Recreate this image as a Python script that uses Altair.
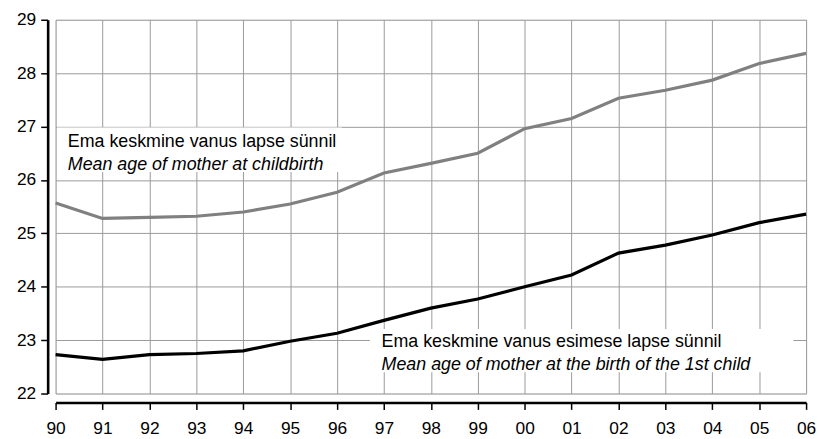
import altair as alt
import pandas as pd

years = ["90", "91", "92", "93", "94", "95", "96", "97", "98", "99",
         "00", "01", "02", "03", "04", "05", "06"]
mean_age_all = [25.57, 25.28, 25.30, 25.32, 25.40, 25.55, 25.77, 26.13, 26.31, 26.50,
                26.96, 27.15, 27.53, 27.68, 27.87, 28.18, 28.37]
mean_age_first = [22.73, 22.64, 22.73, 22.75, 22.80, 22.98, 23.13, 23.37, 23.60, 23.77,
                  24.00, 24.22, 24.63, 24.78, 24.97, 25.20, 25.36]

label_all = ["Ema keskmine vanus lapse sünnil", "Mean age of mother at childbirth"]
label_first = ["Ema keskmine vanus esimese lapse sünnil",
               "Mean age of mother at the birth of the 1st child"]

FONT = "Liberation Sans"
n = len(years)
idx = list(range(n))

df = pd.DataFrame({
    "i": idx * 2,
    "year": years * 2,
    "value": mean_age_all + mean_age_first,
    "series": ["all"] * n + ["first"] * n,
})

# annotation boxes (data coordinates: index, age)
boxes = pd.DataFrame({
    "x": [0.03, 6.70],
    "x2": [6.10, 15.73],
    "y": [26.15, 22.40],
    "y2": [26.98, 23.21],
})
texts = pd.DataFrame({
    "x": [0.26, 0.26, 6.95, 6.95],
    "y": [26.61, 26.19, 22.87, 22.44],
    "text": [label_all[0], label_all[1], label_first[0], label_first[1]],
    "style": ["normal", "italic", "normal", "italic"],
})

label_expr = "[" + ",".join(f"'{y}'" for y in years) + "][datum.value]"

xscale = alt.Scale(domain=[0, n - 1], nice=False, zero=False)
yscale = alt.Scale(domain=[22, 29], nice=False, zero=False)

x_axis = alt.Axis(values=idx, labelExpr=label_expr, title=None,
                  grid=True, gridColor="#9a9a9a", gridWidth=1,
                  domainColor="black", domainWidth=2.6, offset=9,
                  tickColor="black", tickWidth=1.5, tickSize=7,
                  labelFont=FONT, labelFontSize=17.5, labelColor="black",
                  labelPadding=10, labelFlush=False, labelOverlap=False)
y_axis = alt.Axis(values=list(range(22, 30)), format="d", title=None,
                  grid=True, gridColor="#9a9a9a", gridWidth=1,
                  domainColor="black", domainWidth=2.6, offset=8,
                  tickColor="black", tickWidth=1.5, tickSize=7,
                  labelFont=FONT, labelFontSize=17.5, labelColor="black",
                  labelPadding=5, labelFlush=False, labelOverlap=False)

base_axes = alt.Chart(df).mark_line(opacity=0).encode(
    x=alt.X("i:Q", scale=xscale, axis=x_axis),
    y=alt.Y("value:Q", scale=yscale, axis=y_axis),
)

rects = alt.Chart(boxes).mark_rect(color="white").encode(
    x=alt.X("x:Q", scale=xscale), x2="x2:Q",
    y=alt.Y("y:Q", scale=yscale), y2="y2:Q",
)

lines = alt.Chart(df).mark_line(strokeWidth=3.2).encode(
    x=alt.X("i:Q", scale=xscale),
    y=alt.Y("value:Q", scale=yscale),
    color=alt.Color("series:N",
                    scale=alt.Scale(domain=["all", "first"], range=["#808080", "#000000"]),
                    legend=None),
)

text_normal = alt.Chart(texts[texts["style"] == "normal"]).mark_text(
    align="left", baseline="alphabetic", font=FONT, fontSize=18, color="black"
).encode(x=alt.X("x:Q", scale=xscale), y=alt.Y("y:Q", scale=yscale), text="text:N")

text_italic = alt.Chart(texts[texts["style"] == "italic"]).mark_text(
    align="left", baseline="alphabetic", font=FONT, fontSize=18, fontStyle="italic",
    color="black"
).encode(x=alt.X("x:Q", scale=xscale), y=alt.Y("y:Q", scale=yscale), text="text:N")

chart = alt.layer(base_axes, rects, lines, text_normal, text_italic).properties(
    width=757, height=377,
    autosize=alt.AutoSizeParams(type="none"),
    padding={"left": 48, "top": 10, "right": 11, "bottom": 44},
).configure_view(stroke=None).configure(background="white")

chart.save("out.html", embed_options={"renderer": "svg", "actions": False})
